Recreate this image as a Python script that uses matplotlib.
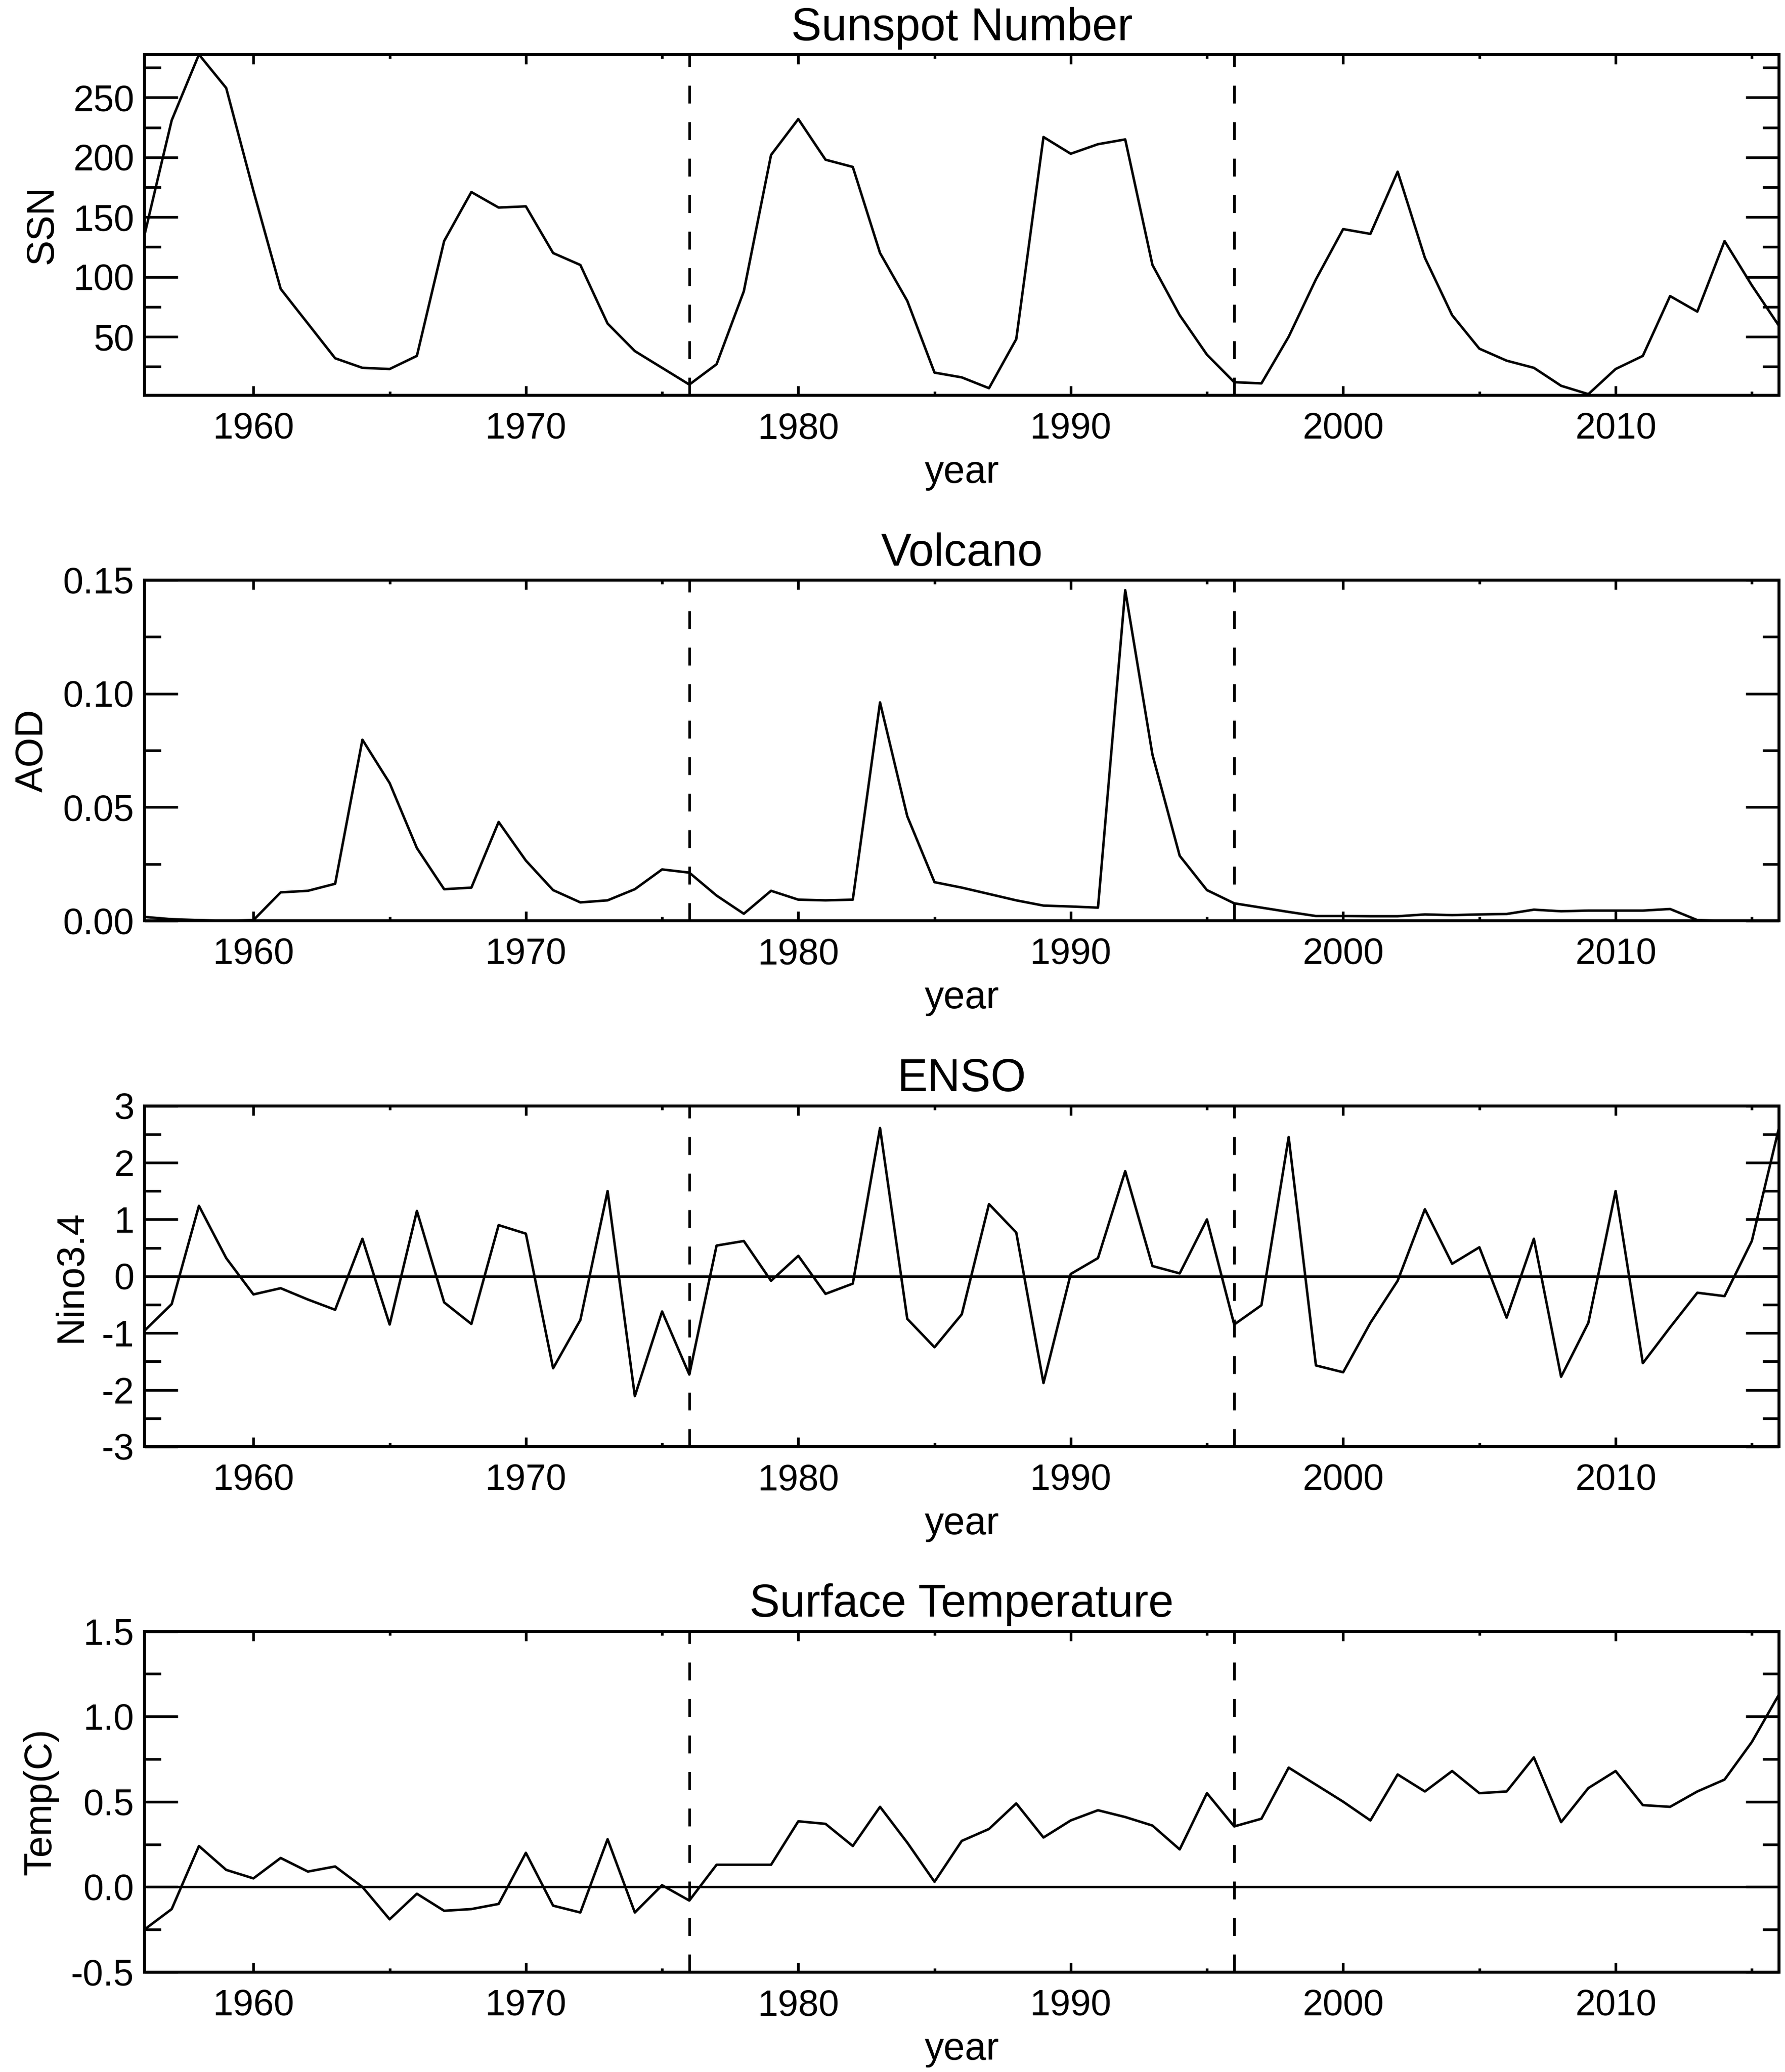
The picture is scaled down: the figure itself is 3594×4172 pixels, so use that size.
import numpy as np
import matplotlib
matplotlib.use("Agg")
import matplotlib.pyplot as plt
from matplotlib.ticker import MultipleLocator, FormatStrFormatter

plt.rcParams['font.family'] = ['Liberation Sans', 'DejaVu Sans']
plt.rcParams['axes.unicode_minus'] = False

years = np.arange(1956, 2017)

ssn = [135, 231, 286, 258, 172, 90, 61, 32, 24, 23,
       34, 130, 171, 158, 159, 120, 110, 61, 38, 24,
       10, 27, 88, 202, 232, 198, 192, 120, 80, 20,
       16, 7, 48, 217, 203, 211, 215, 110, 68, 35,
       12, 11, 50, 98, 140, 136, 188, 116, 68, 40,
       30, 24, 9, 2, 23, 34, 84, 71, 130, 93,
       59]

aod = [0.0017, 0.0007, 0.0003, 0.0, 0.0003, 0.0125, 0.0132, 0.0163, 0.0797, 0.0606,
       0.032, 0.0139, 0.0146, 0.0435, 0.0265, 0.0135, 0.0081, 0.009, 0.0139, 0.0226,
       0.0212, 0.0111, 0.0031, 0.0132, 0.0093, 0.009, 0.0093, 0.0961, 0.046, 0.017,
       0.0146, 0.0118, 0.009, 0.0067, 0.0063, 0.0058, 0.1455, 0.0731, 0.0286, 0.0135,
       0.0077, 0.0058, 0.0039, 0.0021, 0.0021, 0.002, 0.002, 0.0028, 0.0025, 0.0028,
       0.003, 0.0049, 0.0042, 0.0045, 0.0045, 0.0045, 0.0052, 0.0003, 0.0, 0.0,
       0.0]

nino = [-0.96, -0.49, 1.24, 0.32, -0.32, -0.21, -0.41, -0.59, 0.66, -0.85,
        1.15, -0.46, -0.84, 0.90, 0.75, -1.62, -0.77, 1.50, -2.11, -0.62,
        -1.73, 0.54, 0.62, -0.08, 0.36, -0.31, -0.13, 2.61, -0.75, -1.25,
        -0.67, 1.27, 0.77, -1.88, 0.04, 0.32, 1.85, 0.18, 0.05, 1.0,
        -0.85, -0.51, 2.45, -1.57, -1.69, -0.82, -0.08, 1.18, 0.22, 0.51,
        -0.73, 0.66, -1.77, -0.82, 1.50, -1.53, -0.90, -0.29, -0.35, 0.62,
        2.62]

temp = [-0.25, -0.13, 0.24, 0.10, 0.05, 0.17, 0.09, 0.12, 0.0, -0.19,
        -0.04, -0.14, -0.13, -0.10, 0.20, -0.11, -0.15, 0.28, -0.15, 0.01,
        -0.08, 0.13, 0.13, 0.13, 0.385, 0.37, 0.24, 0.47, 0.26, 0.03,
        0.27, 0.34, 0.49, 0.29, 0.39, 0.45, 0.41, 0.36, 0.22, 0.55,
        0.355, 0.40, 0.70, 0.60, 0.50, 0.39, 0.66, 0.56, 0.68, 0.55,
        0.56, 0.76, 0.38, 0.58, 0.68, 0.48, 0.47, 0.56, 0.63, 0.85,
        1.13]

breaks = [1976, 1996]

panels = [
    ("Sunspot Number", "SSN", ssn, (1, 286), 50, 25, "%d", False),
    ("Volcano", "AOD", aod, (0, 0.15), 0.05, 0.025, "%.2f", False),
    ("ENSO", "Nino3.4", nino, (-3, 3), 1, 0.5, "%d", True),
    ("Surface Temperature", "Temp(C)", temp, (-0.5, 1.5), 0.5, 0.25, "%.1f", True),
]

bottoms = [0.8092, 0.5556, 0.3018, 0.0482]
left, width, height = 0.0809, 0.9155, 0.1645

fig = plt.figure(figsize=(3595 / 300, 4172 / 300), dpi=300)

for (title, ylab, vals, ylim, major, minor, fmt, zero), b in zip(panels, bottoms):
    ax = fig.add_axes([left, b, width, height])
    ax.plot(years, vals, color='black', lw=1.2)
    for yr in breaks:
        ax.plot([yr, yr], [ylim[0], ylim[1]], color='black', lw=1.2,
                ls=(0, (7.2, 7.5)))
    if zero:
        ax.axhline(0, color='black', lw=1.2)
    ax.set_xlim(1956, 2016)
    ax.set_ylim(*ylim)
    ax.xaxis.set_major_locator(MultipleLocator(10))
    ax.xaxis.set_minor_locator(MultipleLocator(5))
    ax.yaxis.set_major_locator(MultipleLocator(major))
    ax.yaxis.set_minor_locator(MultipleLocator(minor))
    ax.yaxis.set_major_formatter(FormatStrFormatter(fmt))
    if title == "Sunspot Number":
        ax.set_yticks([50, 100, 150, 200, 250])
    ax.tick_params(axis='both', which='both', direction='in',
                   top=True, right=True, labelsize=17.7, width=1.3)
    ax.tick_params(axis='y', which='major', length=16, pad=5)
    ax.tick_params(axis='y', which='minor', length=8)
    ax.tick_params(axis='x', which='major', length=4.5, pad=8)
    ax.tick_params(axis='x', which='minor', length=2)
    for sp in ax.spines.values():
        sp.set_linewidth(1.45)
    ax.set_title(title, fontsize=22, pad=7)
    ax.set_xlabel("year", fontsize=18.5, labelpad=4)
    ax.set_ylabel(ylab, fontsize=18.5, labelpad=6)

fig.savefig("out.png", dpi=300, facecolor='white')
